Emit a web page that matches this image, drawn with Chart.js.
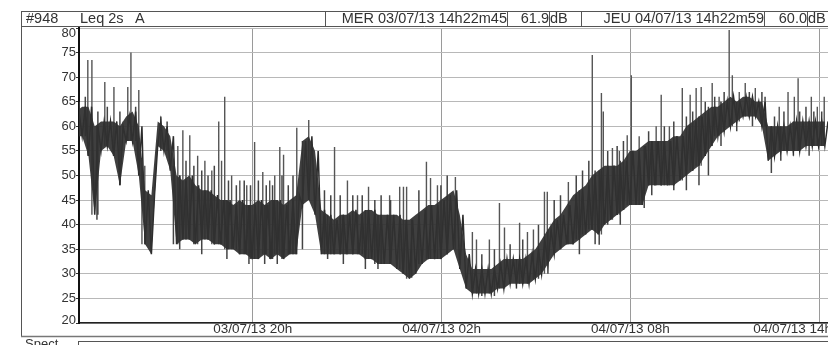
<!DOCTYPE html>
<html>
<head>
<meta charset="utf-8">
<script src="https://cdn.jsdelivr.net/npm/chart.js@4/dist/chart.umd.min.js"></script>
<style>
html, body { margin: 0; padding: 0; background: #fff; }
#wrap { width: 828px; height: 345px; position: relative; }
</style>
</head>
<body>
<div id="wrap"><canvas id="graph"></canvas></div>
<script>
// temps en heures depuis le début de la mesure (03/07/13 14h22m45)
const bandStart = 0;
const bandStep = 0.2;
// enveloppe basse / haute de la trace Leq 2s (dB)
const bandLow = [
  58, 58, 54, 42, 55, 56, 54, 48, 57, 57,
  50, 36, 34, 56, 55, 51, 36, 37, 37, 36,
  37, 37, 36, 36, 35, 35, 34, 34, 33, 33,
  34, 33, 34, 33, 34, 34, 44, 45, 42, 34,
  34, 34, 34, 34, 34, 34, 33, 33, 32, 32,
  32, 31, 30, 29, 30, 32, 33, 33, 33, 34,
  35, 31, 27, 26, 26, 26, 26, 27, 27, 28,
  28, 28, 28, 29, 30, 32, 34, 35, 36, 36,
  37, 38, 39, 38, 40, 41, 42, 43, 44, 44,
  44, 48, 48, 48, 48, 48, 49, 50, 51, 52,
  54, 56, 58, 59, 60, 61, 62, 62, 62, 60,
  53, 54, 55, 55, 55, 55, 56, 56, 56, 56
];
const bandHigh = [
  63, 64, 64, 60, 61, 61, 61, 60, 62, 63,
  60, 47, 46, 61, 60, 58, 50, 49, 50, 48,
  47, 47, 46, 45, 45, 44, 45, 44, 44, 45,
  44, 45, 45, 44, 45, 46, 57, 58, 55, 43,
  42, 41, 42, 42, 43, 42, 43, 43, 42, 42,
  42, 42, 41, 41, 42, 43, 44, 44, 45, 46,
  47, 42, 34, 31, 31, 31, 31, 32, 33, 33,
  33, 33, 34, 35, 37, 39, 41, 42, 44, 46,
  47, 48, 50, 51, 52, 52, 52, 53, 55, 55,
  56, 57, 57, 57, 57, 58, 58, 60, 61, 62,
  63, 64, 64, 65, 66, 65, 66, 66, 65, 65,
  60, 60, 60, 60, 61, 61, 61, 61, 61, 61
];
// pics isolés
const peakHours = [0.38, 0.51, 0.92, 1.21, 1.65, 1.75, 2.0, 2.1, 2.19, 3.24,
  3.40, 3.62, 3.87, 4.10, 4.32, 4.54, 4.63, 4.73, 4.95, 5.21,
  5.43, 5.68, 5.94, 6.16, 6.32, 6.48, 6.60, 7.02, 7.40, 8.22,
  8.63, 8.95, 9.30, 9.97, 10.29, 10.41, 10.51, 11.14, 11.27, 11.49,
  12.06, 12.60, 12.73, 13.14, 13.46, 13.62, 14.10, 14.35, 14.54, 14.89,
  14.98, 15.65, 16.41, 16.70, 16.76, 17.05, 17.27, 17.52, 17.65, 17.90,
  18.44, 18.60, 18.86, 19.27, 19.52, 19.71, 19.87, 20.22, 20.44, 20.76,
  20.86, 21.08, 21.27, 21.59, 22.35, 22.63, 22.83, 22.95, 23.37, 23.56, 23.78];
const peakDb = [73.5, 73.5, 69, 68, 68, 75, 67.4, 53.6, 52, 56,
  59.2, 58.2, 54, 53, 51, 61, 53, 66, 50, 49,
  48, 56.8, 50.7, 49, 50, 55.8, 54.2, 59.7, 61.3, 55.8,
  49, 46, 47.7, 46, 47.7, 47.7, 47.7, 52.8, 49.5, 48,
  49.7, 38.5, 37, 37, 44.4, 39.4, 40.4, 38.5, 39, 46.7,
  46.7, 48.7, 74.5, 66.8, 63, 55.6, 55, 58.2, 70.4, 58,
  60, 66.4, 60, 67.8, 66.4, 67.8, 68, 68.8, 66, 79.6,
  70.4, 67, 68.8, 67.8, 64, 67, 66, 69.8, 66, 64, 66];
// petites pointes au-dessus de la bande
const minorHours = [0.1, 0.3, 0.7, 1.0, 1.4, 1.9, 2.7, 2.9, 3.1, 3.5,
  3.75, 4.0, 4.2, 4.4, 4.85, 5.1, 5.35, 5.55, 5.8, 6.05,
  6.25, 6.55, 6.75, 6.9, 7.9, 8.1, 8.4, 8.8, 9.1, 9.5,
  9.7, 10.0, 10.9, 11.6, 11.8, 12.9, 13.3, 13.8, 14.2, 14.7,
  15.2, 15.4, 15.9, 16.1, 16.3, 16.9, 17.2, 17.4, 18.2, 18.7,
  19.0, 19.4, 19.6, 20.0, 20.3, 20.6, 21.4, 21.8, 21.9, 22.2,
  22.5, 23.0, 23.2, 23.45, 23.7];
const minorDb = [65, 66, 63, 64, 63, 64, 62, 61, 52, 53,
  52, 51, 50, 52, 49, 48, 49, 48, 49, 48,
  48, 50, 48, 50, 47, 46, 46, 46, 46, 45,
  46, 45, 47, 48, 50, 34, 35, 36, 37, 40,
  45, 46, 50, 51, 53, 55, 56, 57, 59, 60,
  61, 62, 63, 65, 66, 67, 67, 67, 66, 62,
  63, 63, 64, 63, 63];
// creux sous la bande
const dipHours = [0.67, 10.67, 16.63, 18.06, 22.10, 3.3, 4.0, 4.8, 5.5, 6.0,
  6.4, 7.2, 8.0, 8.5, 9.2, 9.6, 12.9, 13.3, 14.0, 15.0,
  16.0, 16.5, 17.3, 18.3, 19.0, 19.4, 19.8, 20.1, 20.5, 21.0,
  21.5, 22.4, 22.8, 23.3];
const dipDb = [41, 29.2, 35.9, 43.4, 50.5, 35, 34, 33, 32, 32,
  32, 35, 33, 32, 31, 31, 25.5, 25.5, 27, 30,
  34, 36, 40, 46, 47, 47, 48, 50, 56, 59,
  60, 53, 54, 54];

const tickHours = [5.621, 11.621, 17.621, 23.621];
const tickLabels = ['03/07/13 20h', '04/07/13 02h', '04/07/13 08h', '04/07/13 14h'];
const yMin = 20, yMax = 80, yStep = 5;

const headerLeft = ['#948', 'Leq 2s', 'A'];
const startText = 'MER 03/07/13 14h22m45';
const startLevel = '61.9';
const endText = 'JEU 04/07/13 14h22m59';
const endLevel = '60.0';

const FONT = '"Liberation Sans", Arial, sans-serif';

// construction des séries
let zig = [];
bandLow.forEach((v, i) => {
    const t = bandStart + i * bandStep;
    zig.push({ x: t, y: v });
    zig.push({ x: t + bandStep / 2, y: bandHigh[i] });
});
const bandPts = (arr) => arr.map((v, i) => ({ x: bandStart + i * bandStep, y: v }));
function stepOf(h) {
    return Math.max(0, Math.min(bandLow.length - 1, Math.round((h - bandStart) / bandStep)));
}
let spikes = [];
peakHours.forEach((h, k) => {
    spikes.push({ x: h, y: bandLow[stepOf(h)] }, { x: h, y: peakDb[k] }, { x: h, y: null });
});
let minor = [];
minorHours.forEach((h, k) => {
    minor.push({ x: h, y: bandLow[stepOf(h)] }, { x: h, y: minorDb[k] }, { x: h, y: null });
});
dipHours.forEach((h, k) => {
    minor.push({ x: h, y: bandHigh[stepOf(h)] }, { x: h, y: dipDb[k] }, { x: h, y: null });
});

function hline(ctx, x1, x2, y) { ctx.beginPath(); ctx.moveTo(x1, y); ctx.lineTo(x2, y); ctx.stroke(); }
function vline(ctx, x, y1, y2) { ctx.beginPath(); ctx.moveTo(x, y1); ctx.lineTo(x, y2); ctx.stroke(); }

const frame = {
    id: 'frame',
    afterDraw(chart) {
        const ctx = chart.ctx;
        const W = chart.width;
        ctx.save();
        ctx.strokeStyle = '#555';
        ctx.lineWidth = 1;
        // en-tête
        hline(ctx, 21, W, 11.5);
        hline(ctx, 21, W, 26.5);
        vline(ctx, 21.5, 11, 336);
        [325.5, 507.5, 549.5, 581.5, 764.5, 807.5].forEach(x => vline(ctx, x, 11, 26));
        ctx.fillStyle = '#333';
        ctx.font = '14.5px ' + FONT;
        ctx.textBaseline = 'alphabetic';
        ctx.textAlign = 'left';
        ctx.fillText(headerLeft[0], 26, 23);
        ctx.fillText(headerLeft[1], 80, 23);
        ctx.fillText(headerLeft[2], 135, 23);
        ctx.textAlign = 'right';
        ctx.fillText(startText, 507, 23);
        ctx.fillText(startLevel, 549, 23);
        ctx.fillText(endText, 764, 23);
        ctx.fillText(endLevel, 807, 23);
        ctx.textAlign = 'left';
        ctx.fillText('dB', 550, 23);
        ctx.fillText('dB', 808, 23);
        // graduations verticales
        const ys = chart.scales.y;
        ctx.font = '13px ' + FONT;
        ctx.textAlign = 'right';
        ctx.textBaseline = 'middle';
        for (let v = yMin; v <= yMax; v += yStep) {
            const cy = Math.min(320, Math.max(33, ys.getPixelForValue(v)));
            ctx.fillText(String(v), 76, cy);
        }
        // étiquettes de temps
        const xs = chart.scales.x;
        ctx.font = '13.5px ' + FONT;
        ctx.textAlign = 'center';
        tickHours.forEach((h, i) => {
            const w = ctx.measureText(tickLabels[i]).width;
            const cx = Math.min(xs.getPixelForValue(h), W + 4 - w / 2);
            ctx.fillText(tickLabels[i], cx, 329);
        });
        // bas de page
        ctx.strokeStyle = '#777';
        ctx.lineWidth = 1.5;
        hline(ctx, 21, W, 336.5);
        ctx.lineWidth = 1;
        ctx.strokeStyle = '#555';
        hline(ctx, 78, W, 341.5);
        vline(ctx, 78.5, 341, 345);
        ctx.textAlign = 'left';
        ctx.textBaseline = 'top';
        ctx.font = '13px ' + FONT;
        ctx.fillText('Spect', 25, 338);
        ctx.restore();
    }
};

const chart = new Chart(document.getElementById('graph'), {
    type: 'line',
    data: {
        datasets: [
            { data: bandPts(bandLow), borderWidth: 0, pointRadius: 0, fill: false },
            { data: bandPts(bandHigh), borderWidth: 0, pointRadius: 0,
              fill: '-1', backgroundColor: 'rgba(48,48,48,0.93)' },
            { data: zig, borderColor: '#2b2b2b', borderWidth: 1.5, pointRadius: 0, fill: false },
            { data: minor, borderColor: '#444', borderWidth: 1.5, pointRadius: 0, fill: false, spanGaps: false },
            { data: spikes, borderColor: '#555', borderWidth: 1.4, pointRadius: 0, fill: false, spanGaps: false }
        ]
    },
    options: {
        responsive: true,
        maintainAspectRatio: false,
        animation: false,
        events: [],
        layout: { padding: { top: 28, left: 0, right: 0, bottom: 0 } },
        plugins: { legend: { display: false }, tooltip: { enabled: false } },
        scales: {
            x: {
                type: 'linear',
                min: 0.1,
                max: 23.9,
                afterBuildTicks: (axis) => { axis.ticks = tickHours.map(v => ({ value: v })); },
                afterFit: (scale) => { scale.height = 22; },
                ticks: { display: false },
                grid: { color: '#9a9a9a', lineWidth: 1, drawTicks: false },
                border: { display: true, color: '#222', width: 1.5 }
            },
            y: {
                min: yMin,
                max: yMax,
                afterFit: (scale) => { scale.width = 79; },
                ticks: { stepSize: yStep, display: false },
                grid: { color: '#b8b8b8', lineWidth: 1, tickColor: '#333', tickLength: 3 },
                border: { display: true, color: '#111', width: 2 }
            }
        }
    },
    plugins: [frame]
});
</script>
</body>
</html>
